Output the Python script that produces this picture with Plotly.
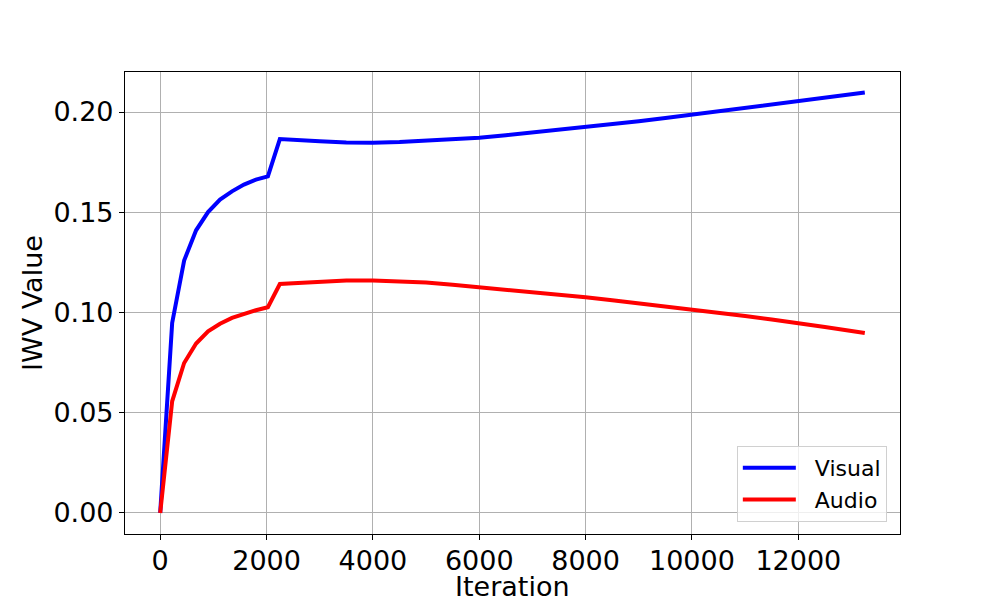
import plotly.graph_objects as go

# iterations and IWV values
iterations = [0, 225, 450, 675, 900, 1125, 1350, 1575, 1800, 2025, 2250,
              2500, 3000, 3500, 4000, 4500, 5000, 5500, 6000, 6500, 7000,
              7500, 8000, 8500, 9000, 9500, 10000, 10500, 11000, 11500,
              12000, 12500, 13000, 13250]

visual = [0.0, 0.0948, 0.1259, 0.1410, 0.1501, 0.1563, 0.1604, 0.1638, 0.1663, 0.1679, 0.1865,
          0.1860, 0.1854, 0.1848, 0.1846, 0.1850, 0.1857, 0.1864, 0.1872, 0.1884, 0.1897,
          0.1910, 0.1924, 0.1939, 0.1954, 0.1970, 0.1987, 0.2003, 0.2019, 0.2036,
          0.2053, 0.2070, 0.2088, 0.2097]

audio = [0.0, 0.0557, 0.0748, 0.0845, 0.0906, 0.0944, 0.0973, 0.0994, 0.1011, 0.1026, 0.1142,
         0.1146, 0.1154, 0.1159, 0.1160, 0.1156, 0.1149, 0.1138, 0.1126, 0.1114, 0.1101,
         0.1089, 0.1076, 0.1061, 0.1046, 0.1030, 0.1014, 0.0998, 0.0982, 0.0965,
         0.0948, 0.0928, 0.0908, 0.0898]

x_ticks = [0, 2000, 4000, 6000, 8000, 10000, 12000]
y_ticks = [0.0, 0.05, 0.10, 0.15, 0.20]

fig = go.Figure()
# leading nbsp pushes the legend text away from the longer line sample
fig.add_trace(go.Scatter(x=iterations, y=visual, mode="lines", name="\u00a0\u00a0Visual",
                         line=dict(color="blue", width=4)))
fig.add_trace(go.Scatter(x=iterations, y=audio, mode="lines", name="\u00a0\u00a0Audio",
                         line=dict(color="red", width=4)))

axis_style = dict(
    showgrid=True, gridcolor="#b0b0b0", gridwidth=1,
    showline=True, linecolor="black", linewidth=1.2, mirror=True,
    ticks="outside", ticklen=5, tickcolor="black",
    zeroline=False, automargin=False,
    tickfont=dict(size=27, color="black"),
)

# the page body has an 8px margin, so the figure is a bit smaller than the window
fig.update_layout(
    width=992, height=592,
    paper_bgcolor="white", plot_bgcolor="white",
    font=dict(family="DejaVu Sans", color="black"),
    margin=dict(l=117, r=100, t=64, b=66),
    xaxis=dict(axis_style, range=[-662, 13912], tickvals=x_ticks, tickformat="d",
               ticklabelstandoff=-3),
    yaxis=dict(axis_style, range=[-0.0105, 0.21995], tickvals=y_ticks,
               tickformat=".2f"),
    legend=dict(x=0.983, y=0.026, xanchor="right", yanchor="bottom",
                bgcolor="rgba(255,255,255,0.8)", bordercolor="#d0d0d0",
                borderwidth=1, font=dict(size=22), itemwidth=53),
    showlegend=True,
)

# axis titles as annotations so they can sit where matplotlib put them
fig.add_annotation(text="Iteration", xref="paper", yref="paper", x=0.5, y=0,
                   xanchor="center", yanchor="middle", yshift=-52,
                   showarrow=False, font=dict(size=27))
fig.add_annotation(text="IWV Value", xref="paper", yref="paper", x=0, y=0.5,
                   xanchor="center", yanchor="middle", xshift=-93, textangle=-90,
                   showarrow=False, font=dict(size=27))

fig.write_html("out.html")
